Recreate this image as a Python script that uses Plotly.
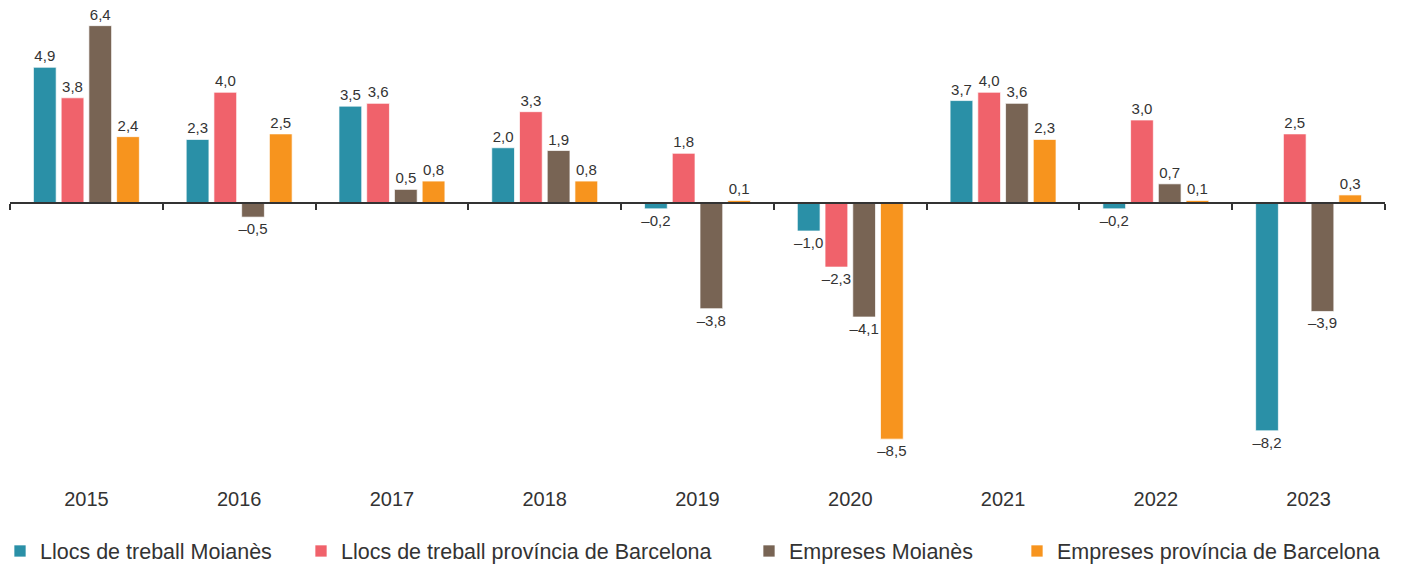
import plotly.graph_objects as go

years = ["2015", "2016", "2017", "2018", "2019", "2020", "2021", "2022", "2023"]
llocs_moianes = [4.9, 2.3, 3.5, 2.0, -0.2, -1.0, 3.7, -0.2, -8.2]
llocs_bcn = [3.8, 4.0, 3.6, 3.3, 1.8, -2.3, 4.0, 3.0, 2.5]
empreses_moianes = [6.4, -0.5, 0.5, 1.9, -3.8, -4.1, 3.6, 0.7, -3.9]
empreses_bcn = [2.4, 2.5, 0.8, 0.8, 0.1, -8.5, 2.3, 0.1, 0.3]

series = [
    ("Llocs de treball Moianès", llocs_moianes, "#2a90a7"),
    ("Llocs de treball província de Barcelona", llocs_bcn, "#f0626b"),
    ("Empreses Moianès", empreses_moianes, "#786454"),
    ("Empreses província de Barcelona", empreses_bcn, "#f7941e"),
]

def fmt(v):
    s = f"{v:.1f}".replace(".", ",")
    return s.replace("-", "\u2013")

W, H = 1401, 565
L, R, T, B = 10, 16, 9, 112
ymin, ymax = -9.0, 7.0
zero_frac = (0 - ymin) / (ymax - ymin)

legend_text_x = [30, 347, 795, 1063]

fig = go.Figure()
layout_legends = {}
for i, (name, vals, col) in enumerate(series):
    lname = "legend" if i == 0 else f"legend{i+1}"
    fig.add_trace(go.Bar(
        x=years, y=vals, name=name,
        marker=dict(color=col, line=dict(color="rgba(255,255,255,0.7)", width=1)),
        text=[fmt(v) for v in vals],
        textposition="outside",
        constraintext="none",
        textfont=dict(size=15, color="#333333", family="Liberation Sans, Arial, sans-serif"),
        cliponaxis=False,
        legend=lname,
        showlegend=True,
    ))
    layout_legends[lname] = dict(
        xref="container", yref="container",
        x=(legend_text_x[i] - 46) / W,
        xanchor="left",
        y=1 - 551 / H,
        yanchor="middle",
        orientation="h",
        font=dict(size=21.5, color="#333333", family="Liberation Sans, Arial, sans-serif"),
        bgcolor="rgba(0,0,0,0)",
        borderwidth=0,
        itemwidth=30,
    )

fig.update_layout(
    width=W, height=H,
    margin=dict(l=L, r=R, t=T, b=B, pad=0, autoexpand=False),
    paper_bgcolor="white", plot_bgcolor="white",
    barmode="group",
    bargap=0.274,
    bargroupgap=0.18,
    showlegend=True,
    font=dict(family="Liberation Sans, Arial, sans-serif", color="#333333"),
    **layout_legends,
)

fig.update_xaxes(
    type="category",
    anchor="free",
    position=zero_frac,
    automargin=False,
    showline=True,
    linecolor="#333333",
    linewidth=1.5,
    ticks="outside",
    tickson="boundaries",
    ticklen=6,
    tickwidth=1.5,
    tickcolor="#333333",
    showgrid=False,
    zeroline=False,
    tickfont=dict(size=20, color="#333333"),
    ticklabelstandoff=278,
)
fig.update_yaxes(
    range=[ymin, ymax],
    visible=False,
    automargin=False,
    showgrid=False,
    zeroline=False,
)

fig.write_html("out.html")
